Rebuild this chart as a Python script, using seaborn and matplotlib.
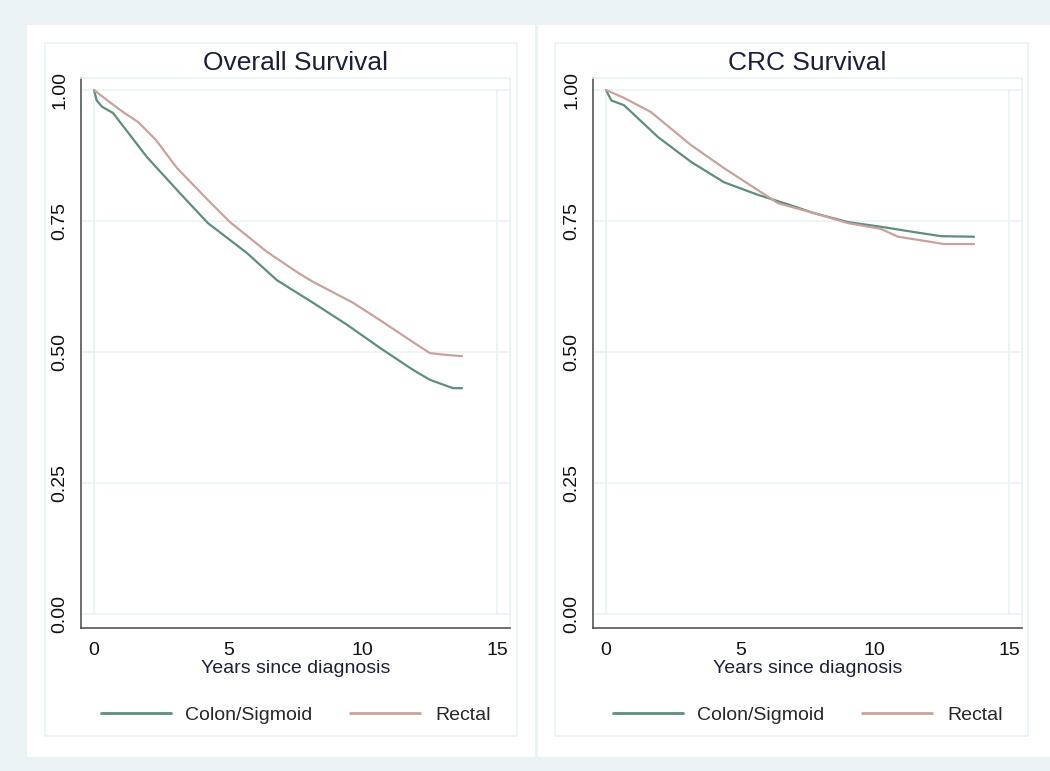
import matplotlib
matplotlib.use("Agg")
import matplotlib.pyplot as plt
import seaborn as sns
import pandas as pd
from matplotlib.patches import Rectangle

sns.set_theme(style="white")
plt.rcParams['font.family'] = ['Liberation Sans', 'DejaVu Sans']

# Kaplan-Meier estimates
os_colon_t = [0, 0.1, 0.3, 0.71, 1.97, 3.2, 4.24, 5.69, 6.81, 8.15, 9.42, 10.64, 11.87, 12.5, 13.36, 13.7]
os_colon_s = [1.0, 0.98, 0.968, 0.956, 0.872, 0.803, 0.746, 0.689, 0.637, 0.594, 0.552, 0.508, 0.466, 0.447, 0.431, 0.431]
os_rectal_t = [0, 0.5, 1.08, 1.64, 2.3, 3.09, 4.24, 5.06, 6.44, 7.6, 8.15, 9.64, 10.64, 11.87, 12.5, 13.0, 13.7]
os_rectal_s = [1.0, 0.98, 0.958, 0.939, 0.905, 0.851, 0.79, 0.748, 0.691, 0.651, 0.634, 0.594, 0.561, 0.519, 0.498, 0.495, 0.492]

crc_colon_t = [0, 0.2, 0.67, 1.94, 3.16, 4.39, 5.65, 6.88, 7.74, 9.0, 10.23, 11.46, 12.47, 13.7]
crc_colon_s = [1.0, 0.98, 0.971, 0.91, 0.863, 0.824, 0.80, 0.78, 0.765, 0.748, 0.739, 0.729, 0.721, 0.72]
crc_rectal_t = [0, 0.67, 1.67, 3.16, 4.39, 5.65, 6.4, 7.74, 9.0, 10.23, 10.87, 12.1, 12.58, 13.7]
crc_rectal_s = [1.0, 0.985, 0.958, 0.895, 0.851, 0.809, 0.784, 0.765, 0.746, 0.735, 0.72, 0.71, 0.706, 0.706]

groups = ['Colon/Sigmoid', 'Rectal']
titles = ['Overall Survival', 'CRC Survival']
xticks = [0, 5, 10, 15]
yticks = [0.0, 0.25, 0.5, 0.75, 1.0]
palette = {'Colon/Sigmoid': '#5e8e7c', 'Rectal': '#caa29d'}

def make_df(ct, cs, rt, rs):
    return pd.concat([
        pd.DataFrame({'time': ct, 'surv': cs, 'group': groups[0]}),
        pd.DataFrame({'time': rt, 'surv': rs, 'group': groups[1]}),
    ], ignore_index=True)

panels = [make_df(os_colon_t, os_colon_s, os_rectal_t, os_rectal_s),
          make_df(crc_colon_t, crc_colon_s, crc_rectal_t, crc_rectal_s)]

bg = '#eaf2f3'
W, H = 1050, 771
fig = plt.figure(figsize=(10.5, 7.71), dpi=100, facecolor=bg)

# white graph boxes and faint graph-region borders (pixel layout), behind the axes
for x0, x1 in [(27, 535), (538, 1050)]:
    fig.patches.append(Rectangle((x0 / W, 1 - 757 / H), (x1 - x0) / W, (757 - 25) / H,
                                 transform=fig.transFigure, facecolor='white', edgecolor='none', zorder=-3))
for x0, x1 in [(45, 517), (555, 1028)]:
    fig.patches.append(Rectangle((x0 / W, 1 - 736 / H), (x1 - x0) / W, (736 - 43) / H,
                                 transform=fig.transFigure, facecolor='none', edgecolor=bg, lw=1.2, zorder=-2))

axes_left = [81, 593]
for i, df in enumerate(panels):
    ax = fig.add_axes([axes_left[i] / W, 1 - 628 / H, 429 / W, 550 / H])
    ax.set_facecolor('none')
    for v in yticks:
        ax.axhline(v, color=bg, lw=1.2, zorder=0)
    ax.vlines([0, 15], 0, 1, color=bg, lw=1.2, zorder=0)
    sns.lineplot(data=df, x='time', y='surv', hue='group', palette=palette,
                 linewidth=1.6, ax=ax, legend=True, zorder=3)
    ax.set_xlim(-0.484, 15.484)
    ax.set_ylim(-0.0267, 1.0229)
    ax.set_xticks(xticks)
    ax.set_yticks(yticks)
    ax.set_yticklabels([f'{v:.2f}' for v in yticks], rotation=90, va='center')
    ax.tick_params(axis='both', direction='out', length=5, width=1, color='#555555',
                   labelsize=14, labelcolor='#111111', pad=4)
    ax.tick_params(axis='x', pad=5)
    for s in ['left', 'bottom']:
        ax.spines[s].set_color('#555555')
        ax.spines[s].set_linewidth(1.2)
    for s in ['top', 'right']:
        ax.spines[s].set_color(bg)
        ax.spines[s].set_linewidth(1.2)
    ax.set_xlabel('Years since diagnosis', fontsize=14, color='#1b1f3a', labelpad=1)
    ax.set_ylabel('')
    ax.set_title(titles[i], fontsize=19, color='#1b1f3a', pad=6)
    ax.legend(title=None, loc='upper center', bbox_to_anchor=(0.5, -0.11), ncol=2,
              frameon=False, fontsize=14, handlelength=3.6, handletextpad=0.76,
              columnspacing=1.93)
    for ln in ax.get_legend().get_lines():
        ln.set_linewidth(2)

fig.savefig('out.png', dpi=100, facecolor=bg)
